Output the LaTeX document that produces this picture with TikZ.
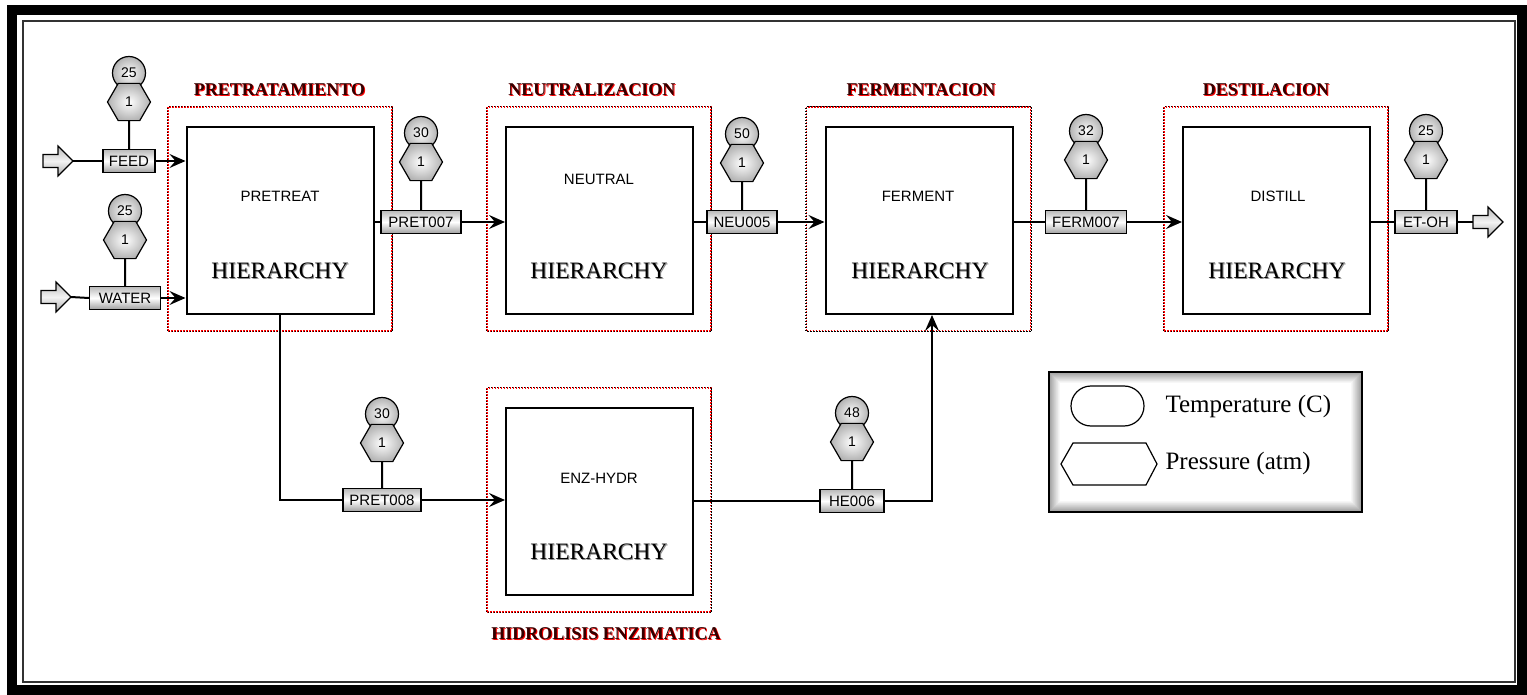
\documentclass[tikz,border=0pt]{standalone}
\usepackage{fontspec}
\setmainfont{Liberation Serif}
\setsansfont{Liberation Sans}
\usetikzlibrary{arrows.meta,shapes.geometric}
\begin{document}
\begin{tikzpicture}[x=1pt,y=-1pt,
  conn/.style={line width=2pt, black},
  arr/.style={conn, -{Stealth[length=16pt,width=14pt,inset=6pt]}},
  unitbox/.style={draw, line width=2pt, minimum width=187pt, minimum height=187pt, inner sep=0pt, fill=white},
  regbox/.style={draw=red, line width=1.3pt, dash pattern=on 1.5pt off 1.5pt, minimum width=224pt, minimum height=224pt, inner sep=0pt},
  regdots/.style={draw=black, line width=1.3pt, dash pattern=on 1.5pt off 1.5pt, dash phase=1.5pt},
  sbox/.style={draw, line width=1.3pt, font=\sffamily\fontsize{15}{15}\selectfont, minimum height=23pt, inner xsep=4pt, inner ysep=0pt, top color=gray!55, bottom color=gray!75, middle color=white},
  tcirc/.style={circle, draw, line width=1.2pt, minimum size=33pt, inner sep=0pt, inner color=white, outer color=gray!60, font=\sffamily\fontsize{14}{14}\selectfont},
  phex/.style={regular polygon, regular polygon sides=6, draw, line width=1.2pt, minimum size=43pt, inner sep=0pt, inner color=white, outer color=gray!60, font=\sffamily\fontsize{14}{14}\selectfont},
  feeder/.style={draw, line width=1.2pt, top color=gray!55, bottom color=gray!65, middle color=gray!10},
  ulabel/.style={font=\sffamily\fontsize{15}{15}\selectfont},
  hier/.style={font=\fontsize{23.5}{24}\selectfont},
  hiersh/.style={font=\fontsize{23.5}{24}\selectfont, text=black!45},
  ttl/.style={font=\bfseries\fontsize{18}{18}\selectfont, text=black!80!red},
  ttlred/.style={font=\bfseries\fontsize{18}{18}\selectfont, text=red},
  legtext/.style={font=\fontsize{25}{25}\selectfont, anchor=west}
]
\useasboundingbox (0,0) rectangle (1527,695);
% frame
\draw[line width=10pt] (11.5,10) rectangle (1522,690);
\draw[line width=2pt, black!80] (23,21) rectangle (1515,682);

% regions
\foreach \n/\x/\y in {regPre/280/219, regNeu/599/219, regFer/918.5/219, regDis/1276/219, regEnz/599/500}{
  \node[regbox] (\n) at (\x,\y) {};
  \draw[regdots] (\n.north west) rectangle (\n.south east);
}

% titles
\node[ttlred] at (280.5,91) {PRETRATAMIENTO};
\node[ttl] (tPre) at (279.5,90) {PRETRATAMIENTO};
\node[ttlred] at (593,91) {NEUTRALIZACION};
\node[ttl] (tNeu) at (592,90) {NEUTRALIZACION};
\node[ttlred] at (922,91) {FERMENTACION};
\node[ttl] (tFer) at (921,90) {FERMENTACION};
\node[ttlred] at (1267,91) {DESTILACION};
\node[ttl] (tDis) at (1266,90) {DESTILACION};
\node[ttlred] at (607,635) {HIDROLISIS ENZIMATICA};
\node[ttl] (tEnz) at (606,634) {HIDROLISIS ENZIMATICA};

% unit boxes
\node[unitbox] (pretreat) at (280,220.5) {};
\node[unitbox] (neutral) at (599.5,220.5) {};
\node[unitbox] (ferment) at (919,220.5) {};
\node[unitbox] (distill) at (1276.5,220.5) {};
\node[unitbox] (enz) at (599.5,501.5) {};

\node[ulabel] (lPre) at (280,196) {PRETREAT};
\node[ulabel] (lNeu) at (599,179) {NEUTRAL};
\node[ulabel] (lFer) at (918,196) {FERMENT};
\node[ulabel] (lDis) at (1278,196) {DISTILL};
\node[ulabel] (lEnz) at (599,478) {ENZ-HYDR};
\foreach \n/\x/\y in {hPre/280/271, hNeu/599/271, hFer/920/271, hDis/1277/271, hEnz/599/552}{
  \node[hiersh] at (\x+1,\y+1) {HIERARCHY};
  \node[hier] (\n) at (\x,\y) {HIERARCHY};
}

% stream markers: circle (temperature) then hexagon (pressure) then label box
\foreach \n/\x/\y/\by/\w/\lab/\t in {
  feed/129/102/161/52/FEED/25,
  water/125/240/298/71/WATER/25,
  pret7/421/162/222/80/PRET007/30,
  neu5/742/163/222/70/NEU005/50,
  ferm7/1086/160/222/81/FERM007/32,
  etoh/1426/160/222/62/ET-OH/25,
  pret8/382/443/500/78/PRET008/30,
  he6/852/442/501/64/HE006/48}{
  \node[tcirc] (\n T) at (\x,\y-29) {\t};
  \node[phex] (\n P) at (\x,\y) {1};
  \node[sbox, minimum width=\w pt] (\n) at (\x,\by) {\lab};
  \draw[conn] (\n P.south) -- (\n.north);
}

% feed arrows
\coordinate (feedIn) at (73,161);
\draw[feeder] (feedIn) -- ++(-15,-15) -- ++(0,8.5) -- ++(-15,0) -- ++(0,13) -- ++(15,0) -- ++(0,8.5) -- cycle;
\coordinate (waterIn) at (71,297);
\draw[feeder] (waterIn) -- ++(-15,-15) -- ++(0,8.5) -- ++(-15,0) -- ++(0,13) -- ++(15,0) -- ++(0,8.5) -- cycle;
\coordinate (etohOut) at (1473,222);
\draw[feeder] (etohOut) -- ++(0,-6.5) -- ++(15,0) -- ++(0,-8.5) -- ++(15,15) -- ++(-15,15) -- ++(0,-8.5) -- ++(-15,0) -- cycle;

% connectors
\draw[conn] (feedIn) -- (feed.west);
\draw[arr] (feed.east) -- (feed -| pretreat.west);
\draw[conn] (waterIn) -- (water.west);
\draw[arr] (water.east) -- (water -| pretreat.west);
\draw[conn] (pret7 -| pretreat.east) -- (pret7.west);
\draw[arr] (pret7.east) -- (pret7 -| neutral.west);
\draw[conn] (neu5 -| neutral.east) -- (neu5.west);
\draw[arr] (neu5.east) -- (neu5 -| ferment.west);
\draw[conn] (ferm7 -| ferment.east) -- (ferm7.west);
\draw[arr] (ferm7.east) -- (ferm7 -| distill.west);
\draw[conn] (etoh -| distill.east) -- (etoh.west);
\draw[conn] (etoh.east) -- (etohOut);
\draw[conn] (pretreat.south) |- (pret8.west);
\draw[arr] (pret8.east) -- (pret8 -| enz.west);
\draw[conn] (he6 -| enz.east) -- (he6.west);
\draw[arr] (he6.east) -| ([xshift=13pt]ferment.south);

% legend
\node[minimum width=313pt, minimum height=140pt, inner sep=0pt, fill=white] (legend) at (1205.5,442) {};
\foreach \i [evaluate=\i as \c using int(38-3.5*\i)] in {0,...,10}{
  \draw[black!\c, line width=1.2pt] ({1049.5+\i},{372.5+\i}) rectangle ({1361.5-\i},{511.5-\i});
}
\draw[line width=1.5pt] (legend.north west) rectangle (legend.south east);
\draw[line width=1.2pt, rounded corners=20pt] (1071,386) rectangle (1144,426);
\draw[line width=1.2pt] (1061,464) -- (1073,443) -- (1146,443) -- (1157,464) -- (1146,485) -- (1073,485) -- cycle;
\node[legtext] (legT) at (1162,406) {Temperature (C)};
\node[legtext] (legP) at (1162,463) {Pressure (atm)};
\end{tikzpicture}
\end{document}
